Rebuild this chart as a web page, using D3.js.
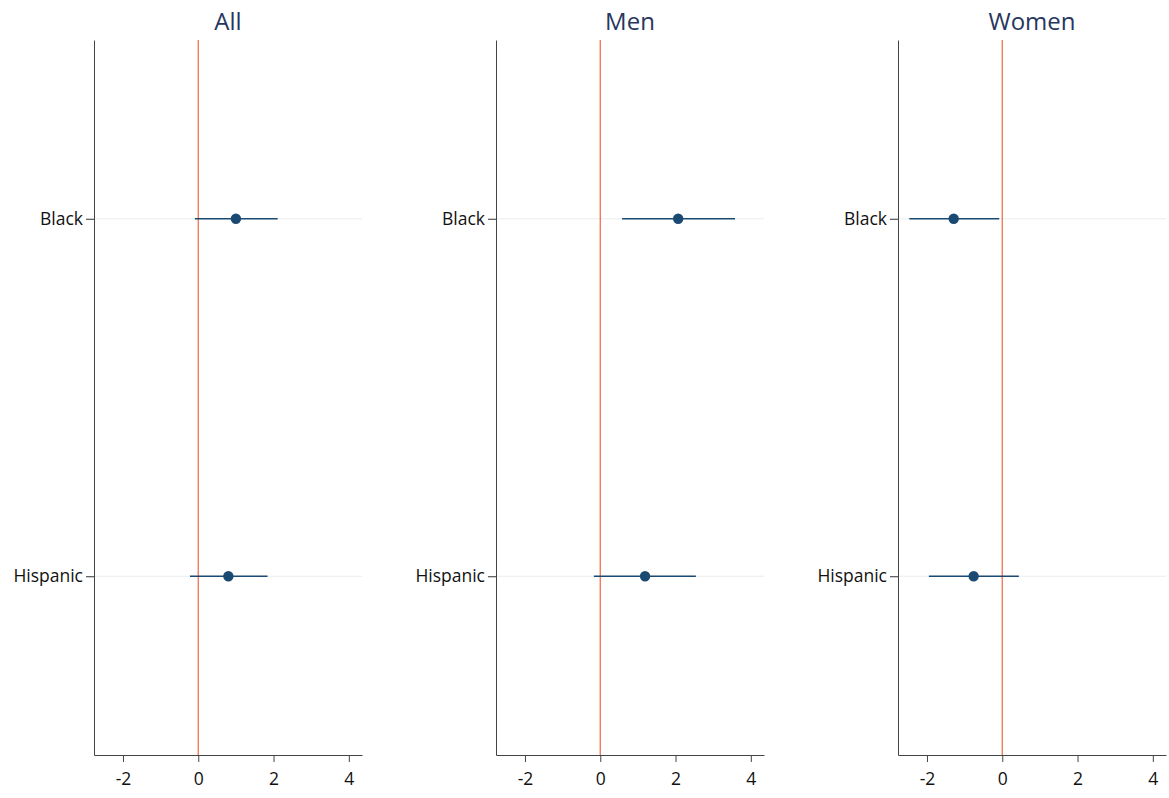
<!DOCTYPE html>
<html>
<head>
<meta charset="utf-8">
<script src="https://cdn.jsdelivr.net/npm/d3@7"></script>
<style>
  body { margin: 0; background: #fff; }
  svg { display: block; }
  svg text { font-family: "Open Sans", "Noto Sans", sans-serif; }
</style>
</head>
<body>
<svg id="chart" width="1169" height="798"></svg>
<script>
// Coefficient estimates with 95% confidence intervals, by sample
const panels = ["All", "Men", "Women"];
const groups = ["Black", "Hispanic"];
const estimates = [
  [1.00, 0.80],
  [2.07, 1.19],
  [-1.29, -0.76]
];
const lower = [
  [-0.09, -0.22],
  [0.58, -0.17],
  [-2.47, -1.95]
];
const upper = [
  [2.11, 1.84],
  [3.58, 2.54],
  [-0.08, 0.44]
];
const xTicks = [-2, 0, 2, 4];

const svg = d3.select("#chart");
const plotW = 268, panelStep = 402, left0 = 94;
const plotTop = 40, plotBottom = 755;
const font = '"Open Sans", "Noto Sans", sans-serif';

const x = d3.scaleLinear().domain([-2.77, 4.35]).range([0, plotW]);
const y = d3.scaleLinear().domain([0.5, 2.5]).range([plotTop, plotBottom]);

panels.forEach((name, p) => {
  const g = svg.append("g").attr("transform", `translate(${left0 + p * panelStep},0)`);

  // title
  g.append("text")
    .attr("x", plotW / 2).attr("y", 30)
    .attr("text-anchor", "middle")
    .attr("font-family", font)
    .attr("font-size", 24)
    .attr("fill", "#26365e")
    .text(name);

  // horizontal guide lines at each group
  g.selectAll("line.grid").data(groups).join("line")
    .attr("class", "grid")
    .attr("x1", 0).attr("x2", plotW)
    .attr("y1", (d, i) => y(i + 1)).attr("y2", (d, i) => y(i + 1))
    .attr("stroke", "#e8eeee").attr("stroke-width", 1.2);

  // reference line at zero
  g.append("line")
    .attr("x1", x(0)).attr("x2", x(0))
    .attr("y1", plotTop).attr("y2", plotBottom)
    .attr("stroke", "#f2704f").attr("stroke-width", 1.3);

  // y axis
  const yAxis = d3.axisLeft(y)
    .tickValues(groups.map((d, i) => i + 1))
    .tickFormat((d) => groups[d - 1])
    .tickSize(8).tickSizeOuter(0).tickPadding(3);
  const ya = g.append("g").call(yAxis).attr("font-family", font);
  ya.select(".domain").attr("stroke", "#444");
  ya.selectAll(".tick line").attr("stroke", "#333");
  ya.selectAll("text").attr("font-size", 17.5).attr("fill", "#111");

  // x axis
  const xAxis = d3.axisBottom(x).tickValues(xTicks)
    .tickFormat((d) => String(d)).tickSize(7).tickSizeOuter(0).tickPadding(11);
  const xa = g.append("g").attr("transform", `translate(0,${plotBottom})`).call(xAxis)
    .attr("font-family", font);
  xa.select(".domain").attr("stroke", "#444");
  xa.selectAll(".tick line").attr("stroke", "#444");
  xa.selectAll("text").attr("font-size", 17.5).attr("fill", "#111");

  // confidence intervals
  g.selectAll("line.ci").data(groups).join("line")
    .attr("class", "ci")
    .attr("x1", (d, i) => x(lower[p][i])).attr("x2", (d, i) => x(upper[p][i]))
    .attr("y1", (d, i) => y(i + 1)).attr("y2", (d, i) => y(i + 1))
    .attr("stroke", "#1a4a72").attr("stroke-width", 1.6);

  // point estimates
  g.selectAll("circle.pt").data(groups).join("circle")
    .attr("class", "pt")
    .attr("cx", (d, i) => x(estimates[p][i]))
    .attr("cy", (d, i) => y(i + 1))
    .attr("r", 5.2)
    .attr("fill", "#1a4a72");
});
</script>
</body>
</html>
